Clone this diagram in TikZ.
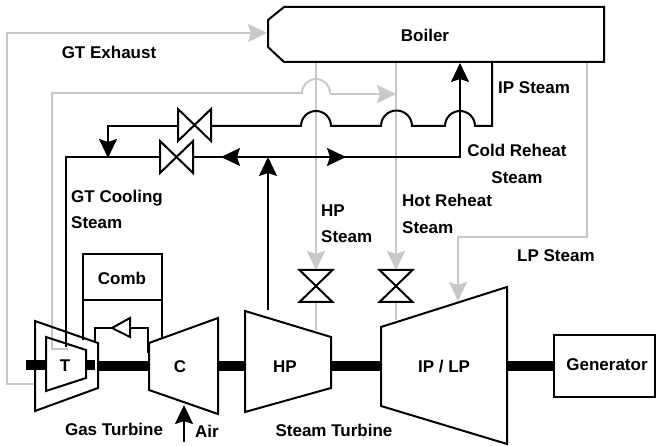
\documentclass[tikz,border=0pt]{standalone}
\usepackage{fontspec}
\setmainfont{Liberation Sans}
\usetikzlibrary{arrows.meta}
\definecolor{pipegrey}{RGB}{200,200,200}
\tikzset{
  lbl/.style={inner sep=0pt,text height=12.2pt,text depth=0pt,font=\fontsize{17}{20}\selectfont\bfseries},
  lbll/.style={lbl,anchor=west},
  pipe/.style={line width=2pt,line join=miter},
  greypipe/.style={pipe,draw=pipegrey},
  tip/.style={-{Stealth[length=19pt,width=18pt,inset=3pt]}},
  shaft/.style={line width=10pt},
  valve/.pic={\path[draw,fill=white,line width=2pt,line join=miter] (-16.5,-16) -- (16.5,16) -- (16.5,-16) -- (-16.5,16) -- cycle;},
  valvev/.pic={\path[draw,fill=white,line width=2pt,line join=miter] (-16.5,-16) -- (16.5,-16) -- (-16.5,16) -- (16.5,16) -- cycle;}
}
\begin{document}
\begin{tikzpicture}[x=1pt,y=-1pt]
\useasboundingbox (0,0) rectangle (656,446);
% The boiler and the generator
\coordinate (bhp) at (316,62);
\coordinate (bhot) at (396,62);
\coordinate (blp) at (587,62);
\coordinate (bip) at (492,62);
\coordinate (bcold) at (460,63);
\coordinate (binl) at (267,33);
% The valves and the other pipe ends
\coordinate (vtop) at (194.5,125);
\coordinate (vlow) at (176.5,157);
\coordinate (vhp) at (316,286);
\coordinate (vhot) at (396,286);
\coordinate (join) at (268,157);
% Grey pipes
\draw[greypipe,tip] (35,384) -- (7,384) -- (7,33) -- (binl);
\draw[greypipe] (68,349) -- (52,349) -- (52,93) -- (302,93) arc[start angle=180,end angle=0,radius=14pt];
\draw[greypipe,tip] (330,94) -- (396,94);
\draw[greypipe,tip] (bhp) -- (vhp |- 0,270);
\draw[greypipe,tip] (bhot) -- (vhot |- 0,270);
\draw[greypipe] (vhp) -- (316,330);
\draw[greypipe] (vhot) -- (396,320);
\draw[greypipe,tip] (blp) -- (587,237) -- (458,237) -- (458,301);
% Black pipes
\draw[pipe] (bip) -- (492,126) -- (475,126) arc[start angle=0,end angle=180,radius=15pt]
  -- (412,126) arc[start angle=0,end angle=180,radius=15.5pt]
  -- (331,126) arc[start angle=0,end angle=180,radius=15pt] -- (vtop |- 0,126);
\draw[pipe,tip] (vtop |- 0,126) -- (108,126) -- (108,158);
\draw[pipe] (66,347) -- (66,157) -- (vlow);
\draw[pipe] (vlow) -- (join);
\draw[pipe,tip] (join) -- (221,157);
\draw[pipe,tip] (join) -- (346,157);
\draw[pipe,tip] (join) -- (460,157) -- (bcold);
\draw[pipe,tip] (268,310) -- (join);
% The valves
\foreach \vname in {vtop,vlow}
  \pic at (\vname) {valve};
\foreach \vname in {vhp,vhot}
  \pic at (\vname) {valvev};
% The shaft
\foreach \xa/\xb/\ya in {26/46/364.5,86/95/365,98/148/366,218/245/366,331/381/366,507/554/366}
  \draw[shaft] (\xa,\ya) -- (\xb,\ya);
% The machines
\draw[pipe] (284,62) -- (268,47) -- (268,20) -- (284,7) -- (604,7) -- (604,62) -- cycle;
\draw[pipe] (35,321) -- (98,343) -- (98,388) -- (35,411) -- cycle;
\draw[pipe] (46,337) -- (86,350) -- (86,378) -- (46,391) -- cycle;
\draw[pipe] (149,343) -- (218,318) -- (218,414) -- (149,390) -- cycle;
\draw[pipe] (245,311) -- (331,337) -- (331,388) -- (245,412) -- cycle;
\draw[pipe] (381,327) -- (507,287) -- (507,444) -- (381,406) -- cycle;
\draw[pipe] (554,335) rectangle (655,397);
% The combustor
\draw[pipe] (83,254) rectangle (162,300);
\draw[pipe] (83,300) -- (83,340);
\draw[pipe] (162,300) -- (162,337);
\draw[pipe] (95,343) -- (95,328) -- (148,328) -- (148,353);
\draw[pipe,fill=white] (112,328) -- (130,318) -- (130,337) -- cycle;
% The air
\draw[pipe,tip] (184,442) -- (184,405);
% The labels
\node[lbl] (boiler) at (425,35) {Boiler};
\node[lbl] (gtex) at (109,52) {GT Exhaust};
\node[lbll] (ipst) at (498,87) {IP Steam};
\node[lbl] (coldre) at (517,150) {Cold Reheat};
\node[lbl] (coldst) at (517,177) {Steam};
\node[lbll] (gtcool) at (71,196) {GT Cooling};
\node[lbll] (gtst) at (71,222) {Steam};
\node[lbll] (hpa) at (321,210) {HP};
\node[lbll] (hpb) at (321,236) {Steam};
\node[lbll] (hota) at (402,200) {Hot Reheat};
\node[lbll] (hotb) at (402,227) {Steam};
\node[lbll] (lpst) at (517,255) {LP Steam};
\node[lbl] (comb) at (122,278) {Comb};
\node[lbl] (tur) at (65,365) {T};
\node[lbl] (cmp) at (180,366) {C};
\node[lbl] (hp) at (285,366) {HP};
\node[lbl] (iplp) at (444,366) {IP / LP};
\node[lbl] (gen) at (607,364) {Generator};
\node[lbl] (gas) at (114,429) {Gas Turbine};
\node[lbll] (air) at (195,431) {Air};
\node[lbl] (steam) at (334,430) {Steam Turbine};
\end{tikzpicture}
\end{document}
